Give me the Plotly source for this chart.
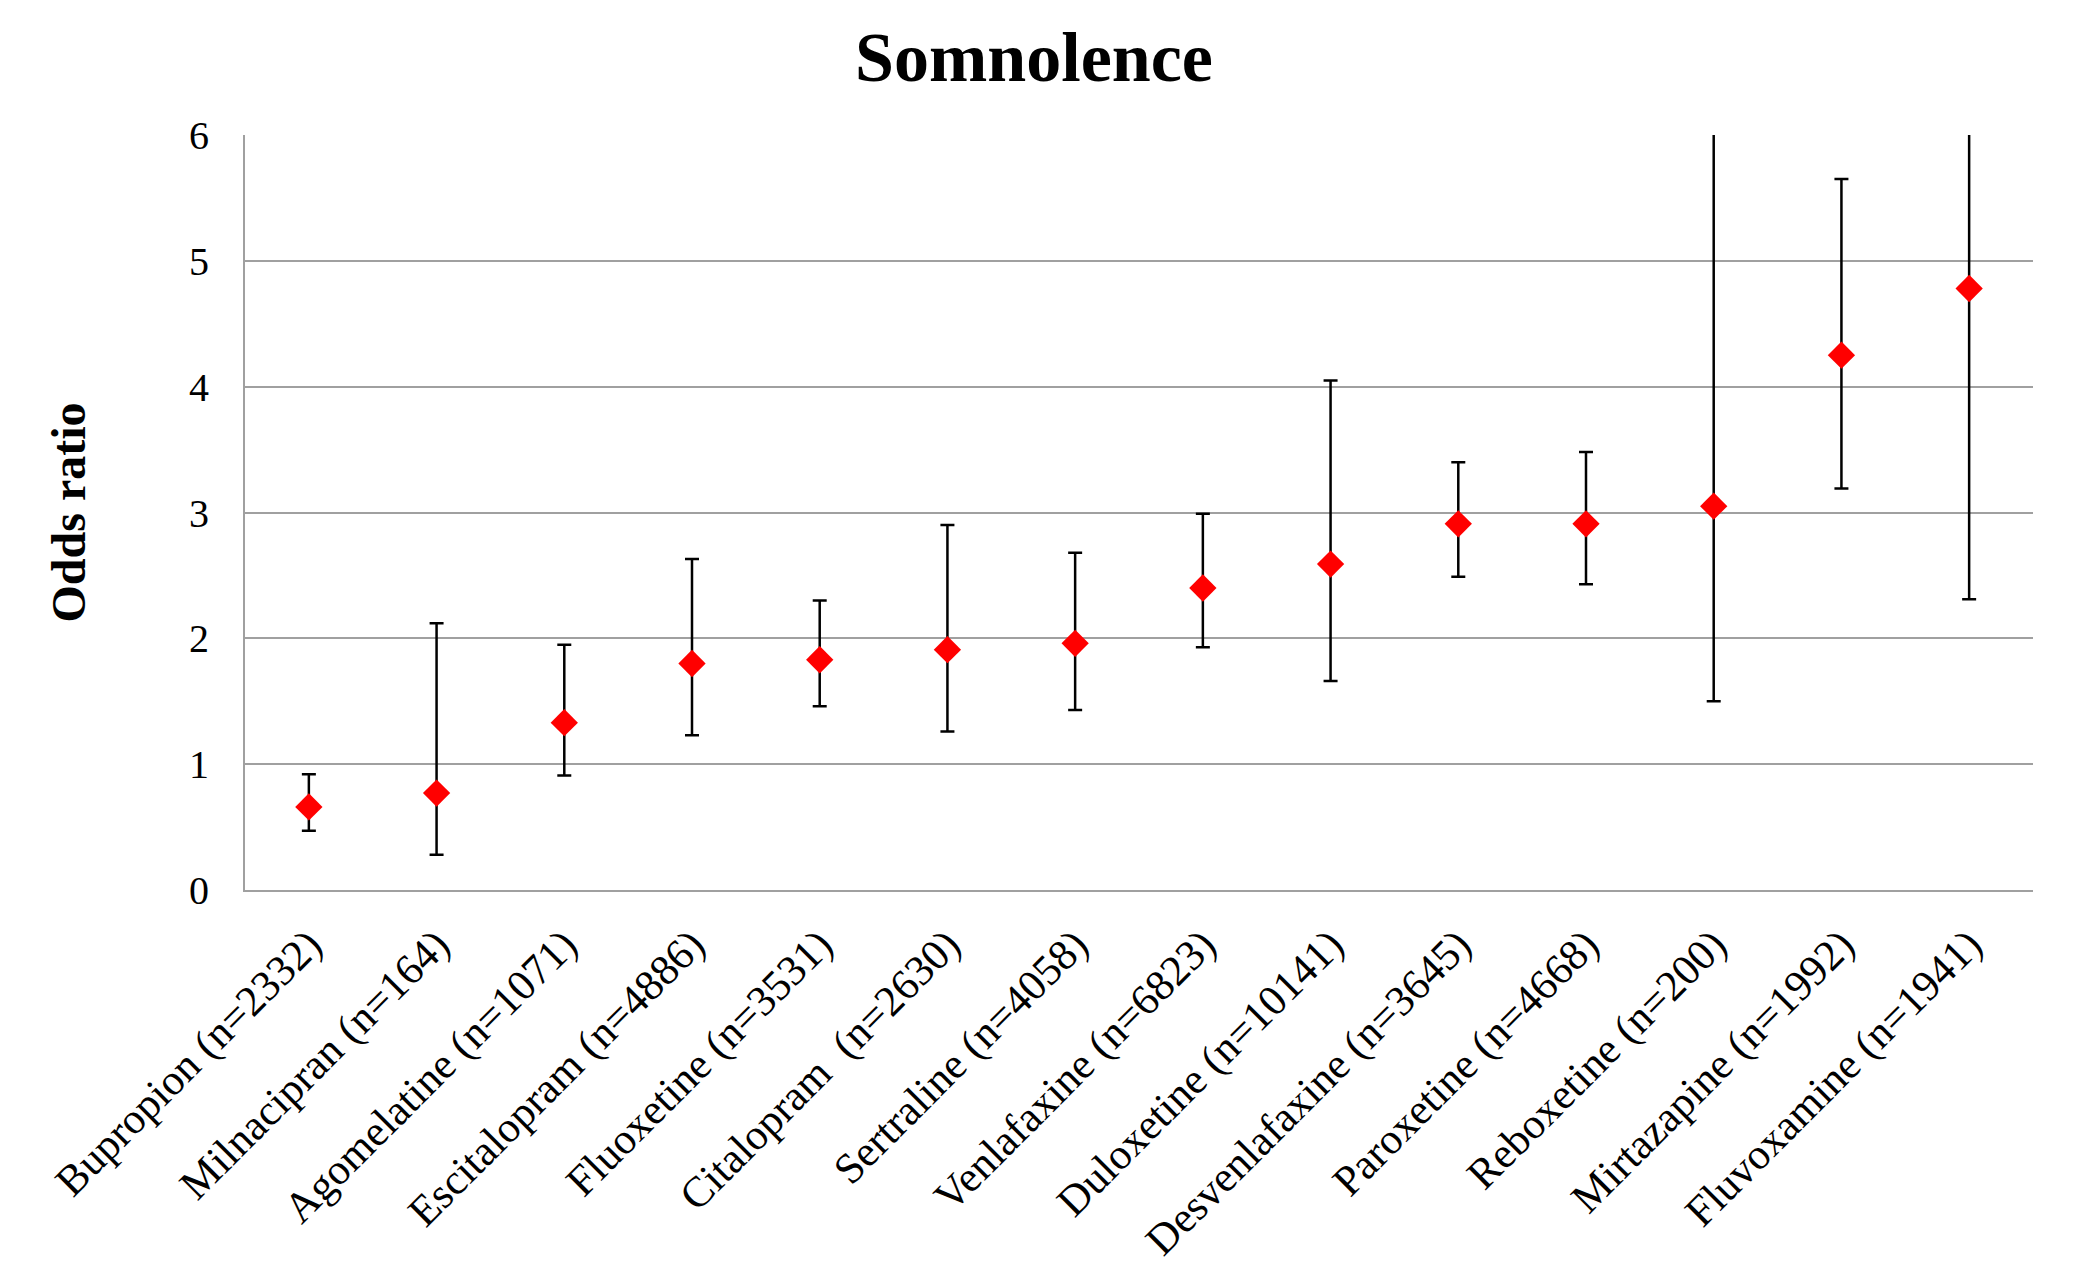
import plotly.graph_objects as go

drugs = ["Bupropion (n=2332)", "Milnacipran (n=164)", "Agomelatine (n=1071)",
         "Escitalopram (n=4886)", "Fluoxetine (n=3531)", "Citalopram\u00a0 (n=2630)",
         "Sertraline (n=4058)", "Venlafaxine (n=6823)", "Duloxetine (n=10141)",
         "Desvenlafaxine (n=3645)", "Paroxetine (n=4668)", "Reboxetine (n=200)",
         "Mirtazapine (n=1992)", "Fluvoxamine (n=1941)"]
odds_ratio = [0.66, 0.77, 1.33, 1.80, 1.83, 1.91, 1.96, 2.40, 2.59, 2.91, 2.91, 3.05, 4.25, 4.78]
ci_lower = [0.47, 0.28, 0.91, 1.23, 1.46, 1.26, 1.43, 1.93, 1.66, 2.49, 2.43, 1.50, 3.19, 2.31]
ci_upper = [0.92, 2.12, 1.95, 2.63, 2.30, 2.90, 2.68, 2.99, 4.05, 3.40, 3.48, 7.00, 5.65, 6.80]
y_ticks = [0, 1, 2, 3, 4, 5, 6]

err_plus = [u - v for u, v in zip(ci_upper, odds_ratio)]
err_minus = [v - l for v, l in zip(odds_ratio, ci_lower)]

fig = go.Figure()
fig.add_trace(go.Scatter(
    x=drugs, y=odds_ratio, mode="markers",
    marker=dict(symbol="diamond", color="#ff0000", size=21, line=dict(width=0)),
    error_y=dict(type="data", symmetric=False, array=err_plus, arrayminus=err_minus,
                 color="black", thickness=2.5, width=7),
    cliponaxis=True, showlegend=False,
))

fig.update_layout(
    width=2058, height=1272,
    margin=dict(l=237, r=33, t=127, b=390, autoexpand=False),
    paper_bgcolor="white", plot_bgcolor="white",
    font=dict(family="Liberation Serif, Times New Roman, serif", color="black"),
    title=dict(text="<b>Somnolence</b>", x=0.4985, xanchor="center", y=0.9615, yanchor="middle",
               font=dict(size=70, family="Liberation Serif, Times New Roman, serif", color="black")),
    xaxis=dict(
        type="category", range=[-0.5, len(drugs) - 0.5], automargin=False,
        tickangle=-45, tickfont=dict(size=43),
        showgrid=False, showline=True, linecolor="#a0a0a0", linewidth=2,
        ticks="", ticklabelstandoff=10,
    ),
    yaxis=dict(
        range=[0, 6], tickvals=y_ticks, ticktext=[str(t) for t in y_ticks], automargin=False,
        tickfont=dict(size=40), showgrid=True, gridcolor="#a0a0a0", gridwidth=2,
        showline=True, linecolor="#a0a0a0", linewidth=2, zeroline=False,
        ticks="", ticklabelstandoff=26,
        title=dict(text="<b>Odds ratio</b>", font=dict(size=48), standoff=88),
    ),
)

fig.write_html("out.html")
